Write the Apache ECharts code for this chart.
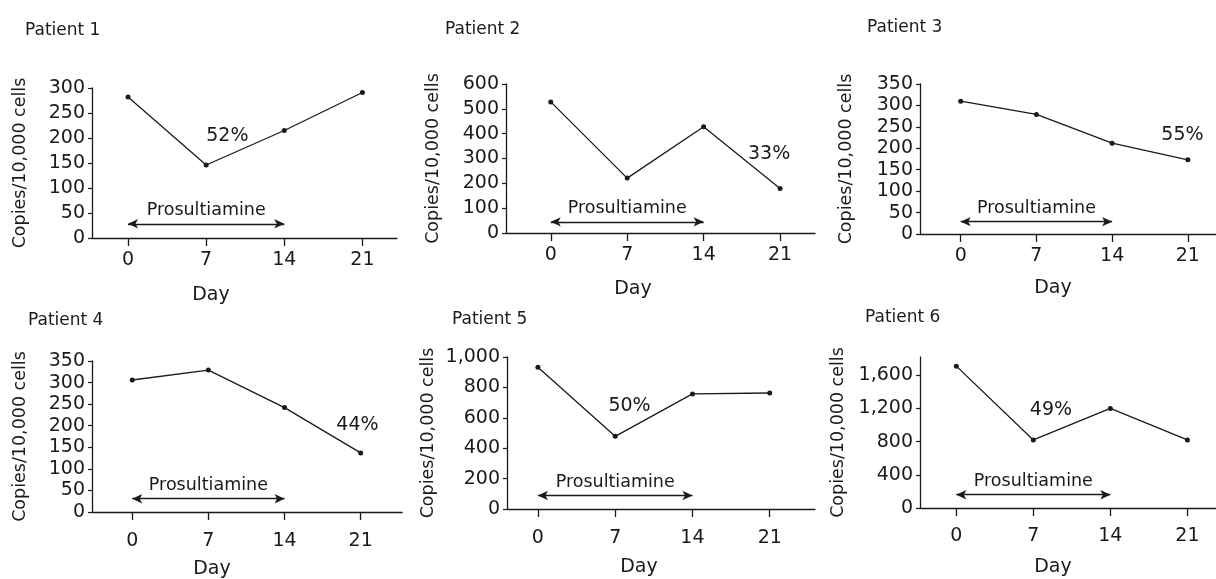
<!DOCTYPE html>
<html>
<head>
<meta charset="utf-8">
<script src="https://cdn.jsdelivr.net/npm/echarts@6/dist/echarts.min.js"></script>
<style>
html,body{margin:0;padding:0;background:#fff;}
#chart{width:1216px;height:579px;}
</style>
</head>
<body>
<div id="chart"></div>
<script>
// ---- data ----
const days = [0, 7, 14, 21];
const dayTicks = [0, 7, 14, 21];
const patient1 = [282, 146, 215, 291];
const patient2 = [528, 221, 428, 179];
const patient3 = [310, 279, 212, 173];
const patient4 = [306, 329, 242, 137];
const patient5 = [932, 478, 757, 763];
const patient6 = [1710, 820, 1200, 820];
const patientNames = ['Patient 1', 'Patient 2', 'Patient 3', 'Patient 4', 'Patient 5', 'Patient 6'];
const reductions = ['52%', '33%', '55%', '44%', '50%', '49%'];
const treatmentPeriod = [0, 14];
const treatmentName = 'Prosultiamine';
const yTicks1 = [0, 50, 100, 150, 200, 250, 300];
const yTicks2 = [0, 100, 200, 300, 400, 500, 600];
const yTicks3 = [0, 50, 100, 150, 200, 250, 300, 350];
const yTicks4 = [0, 50, 100, 150, 200, 250, 300, 350];
const yTicks5 = [0, 200, 400, 600, 800, 1000];
const yTicks6 = [0, 400, 800, 1200, 1600];
const xAxisName = 'Day';
const yAxisName = 'Copies/10,000 cells';

const seriesValues = [patient1, patient2, patient3, patient4, patient5, patient6];
const yTickSets = [yTicks1, yTicks2, yTicks3, yTicks4, yTicks5, yTicks6];

// ---- layout (pixels / axis extents / annotation anchors) ----
const layout = [
  {grid:{left:92, top:88, width:305, height:150}, xMin:-3.23, xMax:24.1, yMax:300, nameGap:63, xLabMargin:13,
   pct:[8.9, 203], arrowFrac:0.095, title:[25, 31], day:[211, 295]},
  {grid:{left:506, top:84, width:309, height:149}, xMin:-4.1, xMax:24.2, yMax:600, nameGap:64, xLabMargin:13,
   pct:[20.0, 319], arrowFrac:0.075, title:[445, 30], day:[633, 289]},
  {grid:{left:920, top:84, width:296, height:150}, xMin:-3.76, xMax:23.6, yMax:350, nameGap:65, xLabMargin:13,
   pct:[20.5, 231], arrowFrac:0.082, title:[867, 28], day:[1053, 288]},
  {grid:{left:92, top:361, width:310, height:151}, xMin:-3.7, xMax:24.8, yMax:350, nameGap:63, xLabMargin:20,
   pct:[20.7, 201], arrowFrac:0.088, title:[28, 321], day:[212, 569]},
  {grid:{left:507, top:357, width:308, height:152}, xMin:-2.8, xMax:25.1, yMax:1000, nameGap:70, xLabMargin:20,
   pct:[8.3, 675], arrowFrac:0.089, title:[452, 320], day:[639, 567]},
  {grid:{left:920, top:357, width:296, height:151}, xMin:-3.3, xMax:23.6, yMax:1820, nameGap:73, xLabMargin:19,
   pct:[8.6, 1180], arrowFrac:0.088, title:[865, 318], day:[1053, 567]}
];

const FONT = 'DejaVu Sans';
const INK = '#1a1a1a';
const fmt = v => Number(v).toLocaleString('en-US');

const grids = [], xAxes = [], yAxes = [], series = [], graphics = [];
layout.forEach((L, i) => {
  grids.push(L.grid);
  xAxes.push({
    type:'value', gridIndex:i, min:L.xMin, max:L.xMax,
    axisLine:{show:true, onZero:false, lineStyle:{color:INK, width:1.3}},
    axisTick:{show:true, length:8, customValues:dayTicks, lineStyle:{color:INK, width:1.3}},
    axisLabel:{show:true, customValues:dayTicks, margin:L.xLabMargin, color:INK, fontFamily:FONT, fontSize:19},
    splitLine:{show:false}
  });
  yAxes.push({
    type:'value', gridIndex:i, min:0, max:L.yMax,
    name:yAxisName, nameLocation:'middle', nameRotate:90, nameGap:L.nameGap,
    nameTextStyle:{color:INK, fontFamily:FONT, fontSize:17.5},
    axisLine:{show:true, onZero:false, lineStyle:{color:INK, width:1.3}},
    axisTick:{show:true, length:4, customValues:yTickSets[i], lineStyle:{color:INK, width:1.2}},
    axisLabel:{show:true, customValues:yTickSets[i], margin:7, color:INK, fontFamily:FONT, fontSize:19, formatter:fmt},
    splitLine:{show:false}
  });
  const arrowY = L.arrowFrac * L.yMax;
  series.push({
    type:'line', xAxisIndex:i, yAxisIndex:i,
    data: days.map((d, k) => [d, seriesValues[i][k]]),
    symbol:'circle', symbolSize:5, showSymbol:true,
    lineStyle:{color:INK, width:1.3}, itemStyle:{color:INK},
    animation:false, silent:true,
    markLine:{
      silent:true, animation:false, symbol:['arrow','arrow'], symbolSize:[7,10],
      lineStyle:{color:INK, width:1.3, type:'solid'},
      label:{show:true, position:'middle', formatter:treatmentName, color:INK, fontFamily:FONT, fontSize:17.5, distance:4},
      data:[[{coord:[treatmentPeriod[0], arrowY]}, {coord:[treatmentPeriod[1], arrowY]}]]
    },
    markPoint:{
      silent:true, animation:false, symbol:'rect', symbolSize:1, itemStyle:{color:'rgba(0,0,0,0)'},
      label:{show:true, position:'inside', formatter:reductions[i], color:INK, fontFamily:FONT, fontSize:19},
      data:[{coord:L.pct}]
    }
  });
  graphics.push({type:'text', x:L.title[0], y:L.title[1],
    style:{text:patientNames[i], fill:INK, font:'17px "DejaVu Sans"', textAlign:'left', textVerticalAlign:'middle'}});
  graphics.push({type:'text', x:L.day[0], y:L.day[1],
    style:{text:xAxisName, fill:INK, font:'19px "DejaVu Sans"', textAlign:'center', textVerticalAlign:'middle'}});
});

const chart = echarts.init(document.getElementById('chart'), null, {renderer:'canvas'});
chart.setOption({
  animation:false,
  backgroundColor:'#fff',
  grid:grids, xAxis:xAxes, yAxis:yAxes, series:series, graphic:graphics
});
</script>
</body>
</html>
